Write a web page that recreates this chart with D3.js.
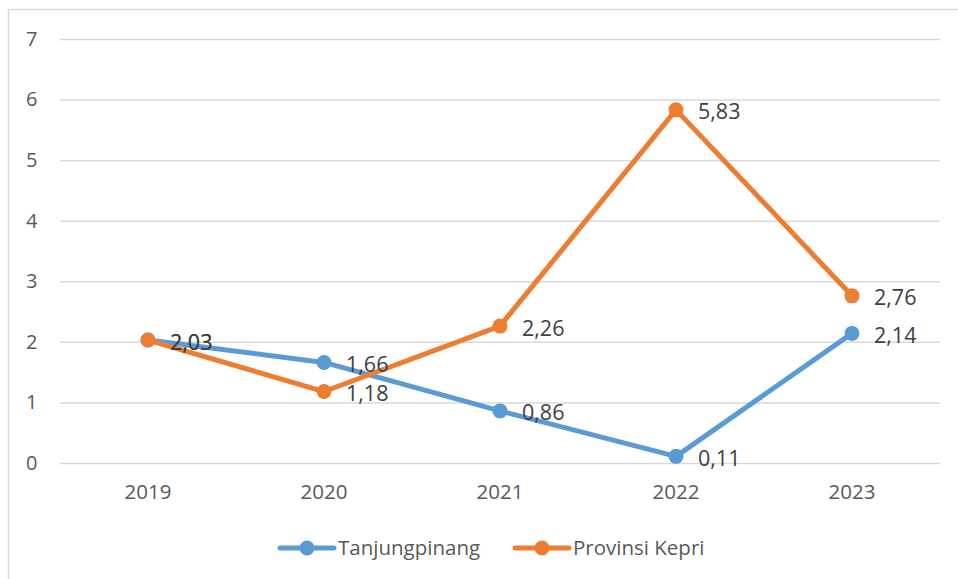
<!DOCTYPE html>
<html>
<head>
<meta charset="utf-8">
<script src="https://cdn.jsdelivr.net/npm/d3@7"></script>
<style>
  body { margin: 0; background: #fff; }
  svg { display: block; font-family: "Open Sans", sans-serif; }
</style>
</head>
<body>
<div id="chart"></div>
<script>
// data
var years = ["2019", "2020", "2021", "2022", "2023"];
var tanjungpinang = [2.03, 1.66, 0.86, 0.11, 2.14];
var kepri = [2.03, 1.18, 2.26, 5.83, 2.76];
var yTicks = [0, 1, 2, 3, 4, 5, 6, 7];
var seriesNames = ["Tanjungpinang", "Provinsi Kepri"];
var seriesColors = ["#5b9bd5", "#ed7d31"];

var W = 958, H = 579;
// note: "top" is taken by window.top, so use plot* names
var plotL = 60, plotR = 940, plotT = 39, plotB = 463;

var svg = d3.select("#chart").append("svg")
    .attr("width", W)
    .attr("height", H);

// chart border (top + left visible)
svg.append("path")
    .attr("d", "M8.5," + H + " L8.5,9.5 L" + W + ",9.5")
    .attr("fill", "none")
    .attr("stroke", "#d9d9d9")
    .attr("stroke-width", 1.5);

var x = d3.scaleBand().domain(years).range([plotL, plotR]);
var y = d3.scaleLinear().domain([0, 7]).range([plotB, plotT]);

// gridlines + y labels
var yAxis = d3.axisLeft(y).tickValues(yTicks).tickSize(-(plotR - plotL)).tickPadding(22)
    .tickFormat(d3.format("d"));
var gy = svg.append("g").attr("transform", "translate(" + plotL + ",0)").call(yAxis);
gy.select(".domain").remove();
gy.selectAll(".tick line").attr("stroke", "#d9d9d9").attr("stroke-width", 1.5);
gy.selectAll(".tick text").attr("fill", "#595959").attr("font-size", "20px")
    .attr("font-family", "Open Sans").attr("text-anchor", "start").attr("x", -34);

// x labels
var xAxis = d3.axisBottom(x).tickSize(0).tickPadding(21);
var gx = svg.append("g").attr("transform", "translate(0," + plotB + ")").call(xAxis);
gx.select(".domain").remove();
gx.selectAll(".tick text").attr("fill", "#595959").attr("font-size", "20.5px")
    .attr("font-family", "Open Sans");

var line = d3.line()
    .x(function(d, i) { return x(years[i]) + x.bandwidth() / 2; })
    .y(function(d) { return y(d); });

var allSeries = [tanjungpinang, kepri];

allSeries.forEach(function(vals, s) {
    var g = svg.append("g");
    g.append("path")
        .datum(vals)
        .attr("d", line)
        .attr("fill", "none")
        .attr("stroke", seriesColors[s])
        .attr("stroke-width", 5)
        .attr("stroke-linejoin", "round")
        .attr("stroke-linecap", "round");
    g.selectAll("circle")
        .data(vals)
        .enter()
        .append("circle")
        .attr("cx", function(d, i) { return x(years[i]) + x.bandwidth() / 2; })
        .attr("cy", function(d) { return y(d); })
        .attr("r", 7.5)
        .attr("fill", seriesColors[s]);
});

// data labels
allSeries.forEach(function(vals, s) {
    svg.append("g").selectAll("text")
        .data(vals)
        .enter()
        .append("text")
        .attr("x", function(d, i) { return x(years[i]) + x.bandwidth() / 2 + 22; })
        .attr("y", function(d) { return y(d) + 2; })
        .attr("dy", "0.35em")
        .attr("fill", "#404040")
        .attr("font-size", "21.5px")
        .text(function(d) { return d.toFixed(2).replace(".", ","); });
});

// legend
var legendX = [280, 515];
seriesNames.forEach(function(name, s) {
    var lg = svg.append("g").attr("transform", "translate(" + legendX[s] + ",548)");
    lg.append("line")
        .attr("x1", 0).attr("x2", 54)
        .attr("y1", 0).attr("y2", 0)
        .attr("stroke", seriesColors[s])
        .attr("stroke-width", 5)
        .attr("stroke-linecap", "round");
    lg.append("circle").attr("cx", 27).attr("cy", 0).attr("r", 7.5).attr("fill", seriesColors[s]);
    lg.append("text")
        .attr("x", 58)
        .attr("y", 0)
        .attr("dy", "0.35em")
        .attr("fill", "#595959")
        .attr("font-size", "20.5px")
        .text(name);
});
</script>
</body>
</html>
